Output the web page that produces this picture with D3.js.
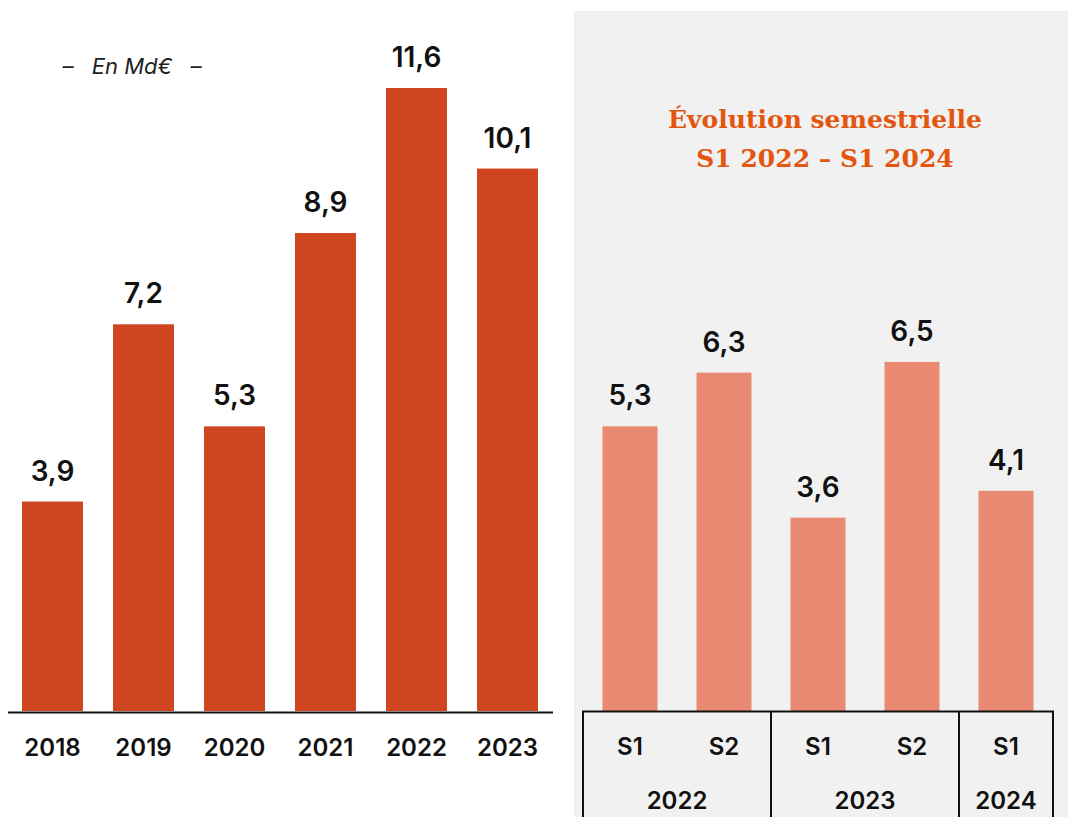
<!DOCTYPE html>
<html><head><meta charset="utf-8">
<script src="https://cdn.jsdelivr.net/npm/d3@7"></script>
<style>
html,body{margin:0;padding:0;background:#fff;}
svg{display:block;}
</style></head>
<body>
<svg id="c" width="1068" height="817"></svg>
<script>
// ---- data ----
const years = ["2018","2019","2020","2021","2022","2023"];
const yearValues = [3.9, 7.2, 5.3, 8.9, 11.6, 10.1];
const semKeys = ["S1 2022","S2 2022","S1 2023","S2 2023","S1 2024"];
const semLabels = ["S1","S2","S1","S2","S1"];
const semValues = [5.3, 6.3, 3.6, 6.5, 4.1];
const semGroups = ["2022","2023","2024"];
const semGroupSizes = [2, 2, 1];
const unitLabel = "En Md€";
const titleLines = ["Évolution semestrielle", "S1 2022 – S1 2024"];

const fmt = v => d3.format(".1f")(v).replace(".", ",");
const svg = d3.select("#c");
const sans = "Inter, 'Noto Sans', sans-serif";

const y = d3.scaleLinear().domain([0, 11.6]).range([711, 88]);

// ---- right panel background ----
svg.append("rect").attr("x", 574).attr("y", 11).attr("width", 494).attr("height", 806).attr("fill", "#f1f1f1");

// ---- left chart ----
const xL = d3.scaleBand().domain(years).range([7, 553]).paddingInner(0.33).paddingOuter(0.165);
svg.append("g").selectAll("rect").data(years).join("rect")
  .attr("x", d => xL(d)).attr("width", xL.bandwidth())
  .attr("y", (d, i) => y(yearValues[i])).attr("height", (d, i) => y(0) - y(yearValues[i]))
  .attr("fill", "#cf4520");
svg.append("g").selectAll("text").data(years).join("text")
  .attr("x", d => xL(d) + xL.bandwidth() / 2).attr("y", (d, i) => y(yearValues[i]) - 21)
  .attr("text-anchor", "middle").attr("font-family", sans).attr("font-weight", 600)
  .attr("font-size", 28).attr("fill", "#111").text((d, i) => fmt(yearValues[i]));
const axL = d3.axisBottom(xL).tickSize(0).tickPadding(27);
const gAx = svg.append("g").attr("transform", "translate(0,712)").call(axL);
gAx.select(".domain").attr("d", "M8,0.5H553").attr("stroke", "#111").attr("stroke-width", 2);
gAx.selectAll("text").attr("font-family", sans).attr("font-weight", 600).attr("font-size", 24).attr("fill", "#111");

// unit label
const gu = svg.append("g").attr("font-family", sans).attr("font-style", "italic").attr("font-size", 22).attr("fill", "#222");
gu.append("text").attr("x", 68).attr("y", 74).attr("text-anchor", "middle").text("–");
gu.append("text").attr("x", 132).attr("y", 74).attr("text-anchor", "middle").text(unitLabel);
gu.append("text").attr("x", 196).attr("y", 74).attr("text-anchor", "middle").text("–");

// ---- right chart ----
const xR = d3.scaleBand().domain(semKeys).range([583, 1053]).paddingInner(0.415).paddingOuter(0.2075);
svg.append("g").selectAll("rect").data(semKeys).join("rect")
  .attr("x", d => xR(d)).attr("width", xR.bandwidth())
  .attr("y", (d, i) => y(semValues[i])).attr("height", (d, i) => y(0) - y(semValues[i]))
  .attr("fill", "#ea8a73");
svg.append("g").selectAll("text").data(semKeys).join("text")
  .attr("x", d => xR(d) + xR.bandwidth() / 2).attr("y", (d, i) => y(semValues[i]) - 21)
  .attr("text-anchor", "middle").attr("font-family", sans).attr("font-weight", 600)
  .attr("font-size", 28).attr("fill", "#111").text((d, i) => fmt(semValues[i]));

// semester labels
svg.append("g").selectAll("text").data(semKeys).join("text")
  .attr("x", d => xR(d) + xR.bandwidth() / 2).attr("y", 755)
  .attr("text-anchor", "middle").attr("font-family", sans).attr("font-weight", 600)
  .attr("font-size", 24).attr("fill", "#111").text((d, i) => semLabels[i]);

// group boxes
const left0 = 583;
let idx = 0;
const groupBounds = semGroups.map((g, gi) => {
  const x0 = gi === 0 ? left0 : xR(semKeys[idx]) - (xR.step() - xR.bandwidth()) / 2;
  const last = semKeys[idx + semGroupSizes[gi] - 1];
  const x1 = gi === semGroups.length - 1 ? 1053 : xR(last) + xR.bandwidth() + (xR.step() - xR.bandwidth()) / 2;
  idx += semGroupSizes[gi];
  return {g, x0, x1};
});
const gb = svg.append("g");
gb.append("path").attr("d", `M${left0},817V711.5H1053V817`).attr("fill", "none").attr("stroke", "#111").attr("stroke-width", 2);
groupBounds.slice(1).forEach(b => {
  gb.append("line").attr("x1", b.x0).attr("x2", b.x0).attr("y1", 711).attr("y2", 817).attr("stroke", "#111").attr("stroke-width", 2);
});
gb.selectAll("text").data(groupBounds).join("text")
  .attr("x", d => (d.x0 + d.x1) / 2).attr("y", 809).attr("text-anchor", "middle")
  .attr("font-family", sans).attr("font-weight", 600).attr("font-size", 24).attr("fill", "#111")
  .text(d => d.g);

// title
svg.append("g").selectAll("text").data(titleLines).join("text")
  .attr("x", 825).attr("y", (d, i) => 128 + i * 39).attr("text-anchor", "middle")
  .attr("font-family", "'DejaVu Serif', serif").attr("font-weight", 700)
  .attr("font-size", 25).attr("fill", "#e3560f").text(d => d);
</script>
</body></html>
